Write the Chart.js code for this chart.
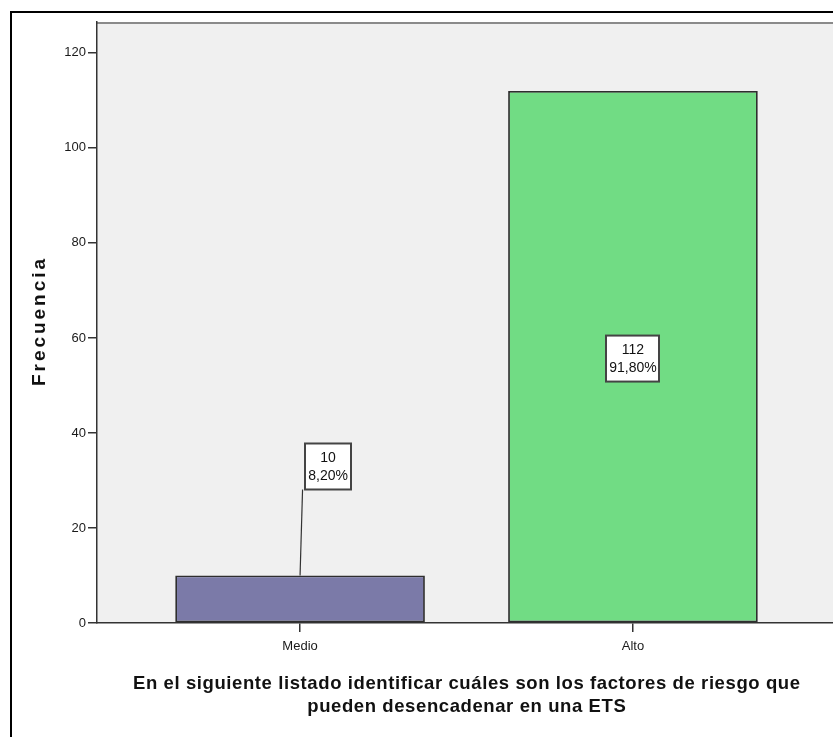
<!DOCTYPE html>
<html>
<head>
<meta charset="utf-8">
<script src="https://cdn.jsdelivr.net/npm/chart.js@4.4.0/dist/chart.umd.min.js"></script>
<style>
  html, body { margin: 0; padding: 0; background: #ffffff; overflow: hidden; }
  #wrap { position: relative; width: 860px; height: 737px; }
</style>
</head>
<body>
<div id="wrap"><canvas id="c"></canvas></div>
<script>
// ---- data ----
const categories = ['Medio', 'Alto'];
const counts = [10, 112];
const percentLabels = ['8,20%', '91,80%'];
const yTickValues = [0, 20, 40, 60, 80, 100, 120];
const yAxisTitle = 'Frecuencia';
const xAxisTitle = ['En el siguiente listado identificar cuáles son los factores de riesgo que', 'pueden desencadenar en una ETS'];

const barColors = ['#7b7aa8', '#71dc84'];

function drawSpaced(ctx, text, x, y, target) {
  ctx.letterSpacing = '0px';
  const w = ctx.measureText(text).width;
  let sp = 0;
  if (target) sp = (target - w) / Math.max(1, text.length - 1);
  ctx.letterSpacing = sp + 'px';
  const w2 = ctx.measureText(text).width - sp;
  ctx.textAlign = 'left';
  ctx.fillText(text, x - w2 / 2, y);
  ctx.letterSpacing = '0px';
  return sp;
}

const decor = {
  id: 'decor',
  beforeDraw(chart) {
    const { ctx, chartArea: a } = chart;
    ctx.save();
    ctx.fillStyle = '#f0f0f0';
    ctx.fillRect(a.left, a.top, a.right - a.left, a.bottom - a.top);
    ctx.strokeStyle = '#8a8a8a';
    ctx.lineWidth = 2;
    ctx.beginPath();
    ctx.moveTo(a.left, a.top + 1);
    ctx.lineTo(a.right, a.top + 1);
    ctx.stroke();
    ctx.strokeStyle = '#000';
    ctx.lineWidth = 2;
    ctx.beginPath();
    ctx.moveTo(11, 737);
    ctx.lineTo(11, 12);
    ctx.lineTo(chart.width, 12);
    ctx.stroke();
    ctx.restore();
  },
  afterDatasetsDraw(chart) {
    const { ctx } = chart;
    const meta = chart.getDatasetMeta(0);
    ctx.save();
    ctx.font = '14px "Liberation Sans", Arial, sans-serif';
    ctx.textBaseline = 'middle';
    meta.data.forEach((bar, i) => {
      const l1 = String(counts[i]);
      const l2 = percentLabels[i];
      const tw = Math.max(ctx.measureText(l1).width, ctx.measureText(l2).width);
      const bw = Math.round(tw + 6), bh = 46;
      let cx, top;
      if (i === 0) {
        cx = bar.x + 28;
        top = bar.y - 86 - bh;
        ctx.strokeStyle = '#333';
        ctx.lineWidth = 1.2;
        ctx.beginPath();
        ctx.moveTo(bar.x + 2.5, top + bh);
        ctx.lineTo(bar.x, bar.y);
        ctx.stroke();
      } else {
        cx = bar.x;
        top = (bar.y + bar.base) / 2 - bh / 2 + 2;
      }
      const left = Math.round(cx - bw / 2);
      ctx.fillStyle = '#fff';
      ctx.fillRect(left, top, bw, bh);
      ctx.strokeStyle = '#444';
      ctx.lineWidth = 2;
      ctx.strokeRect(left, top, bw, bh);
      ctx.fillStyle = '#111';
      ctx.textAlign = 'center';
      ctx.fillText(l1, cx, top + 15);
      ctx.fillText(l2, cx, top + 33);
    });
    ctx.restore();
  },
  afterDraw(chart) {
    const { ctx, chartArea: a } = chart;
    const xs = chart.scales.x;
    ctx.save();
    ctx.fillStyle = '#111';
    ctx.font = 'bold 18.5px "Liberation Sans", Arial, sans-serif';
    ctx.textBaseline = 'middle';
    const cx = (xs.getPixelForValue(0) + xs.getPixelForValue(1)) / 2;
    const sp = drawSpaced(ctx, xAxisTitle[0], cx, 684, 667);
    ctx.letterSpacing = sp + 'px';
    const w2 = ctx.measureText(xAxisTitle[1]).width - sp;
    ctx.textAlign = 'left';
    ctx.fillText(xAxisTitle[1], cx - w2 / 2, 707);
    ctx.letterSpacing = '0px';
    ctx.font = 'bold 19px "Liberation Sans", Arial, sans-serif';
    ctx.translate(40, (a.top + a.bottom) / 2);
    ctx.rotate(-Math.PI / 2);
    drawSpaced(ctx, yAxisTitle, 0, 0, 127);
    ctx.restore();
  }
};

new Chart(document.getElementById('c'), {
  type: 'bar',
  data: {
    datasets: [{
      data: categories.map((c, i) => ({ x: i, y: counts[i] })),
      backgroundColor: barColors,
      borderColor: '#2e2e2e',
      borderWidth: 1.8,
      borderSkipped: false,
      barPercentage: 0.75,
      categoryPercentage: 1
    }]
  },
  options: {
    responsive: true,
    maintainAspectRatio: false,
    animation: false,
    layout: { padding: { top: 22, right: 24, left: 0, bottom: 0 } },
    plugins: { legend: { display: false }, tooltip: { enabled: false } },
    scales: {
      x: {
        type: 'linear',
        min: -0.61,
        max: 1.61,
        offset: false,
        afterBuildTicks: s => { s.ticks = categories.map((c, i) => ({ value: i })); },
        afterFit: s => { s.height = 114; },
        ticks: {
          callback: v => categories[v],
          color: '#1a1a1a',
          font: { family: '"Liberation Sans", Arial, sans-serif', size: 13 },
          padding: 7,
          maxRotation: 0
        },
        grid: { offset: false, drawOnChartArea: false, drawTicks: true, tickLength: 9, color: '#333', lineWidth: 1.5 },
        border: { display: true, color: '#333', width: 1.5 }
      },
      y: {
        min: 0,
        max: 126.5,
        afterBuildTicks: s => { s.ticks = yTickValues.map(v => ({ value: v })); },
        afterFit: s => { s.width = 97; },
        ticks: {
          color: '#1a1a1a',
          font: { family: '"Liberation Sans", Arial, sans-serif', size: 13 },
          padding: 2
        },
        grid: { drawOnChartArea: false, drawTicks: true, tickLength: 9, color: '#333', lineWidth: 1.5 },
        border: { display: true, color: '#333', width: 1.5 }
      }
    }
  },
  plugins: [decor]
});
</script>
</body>
</html>
